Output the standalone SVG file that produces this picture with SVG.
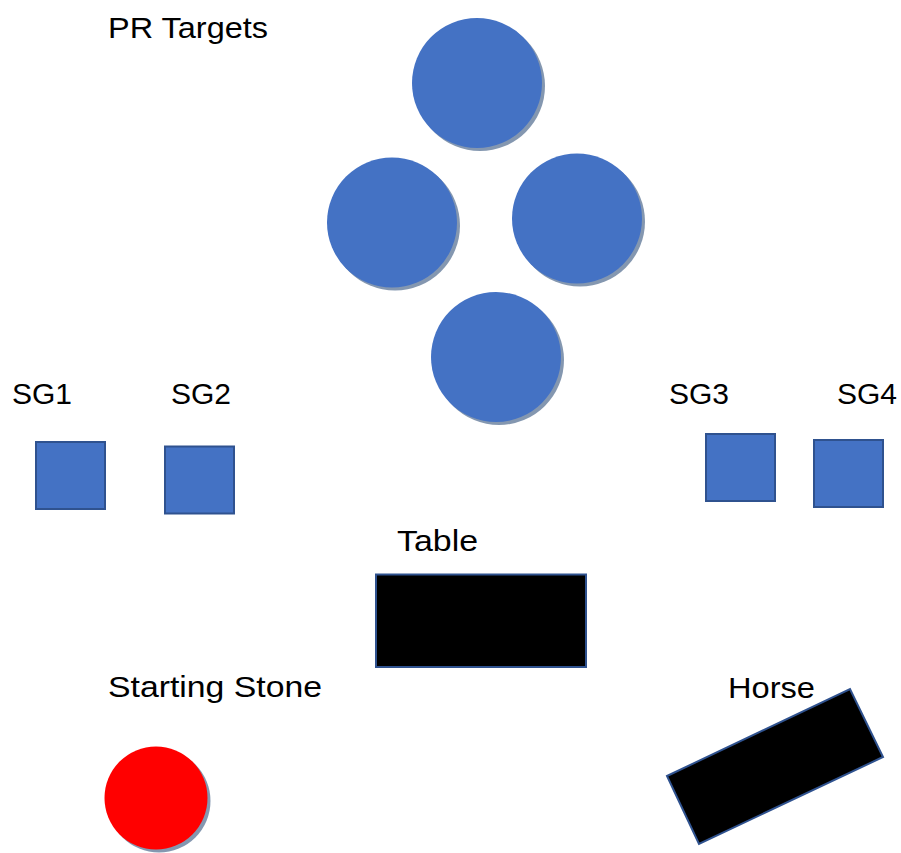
<svg xmlns="http://www.w3.org/2000/svg" width="901" height="853" viewBox="0 0 901 853">
<style>
.lbl{font-family:"Liberation Sans",Arial,sans-serif;font-size:30px;fill:#000}
.tgt{fill:#4472c4}
.sh{fill:#8497b0}
.sq{fill:#4472c4;stroke:#2f528f;stroke-width:2}
.blk{fill:#000;stroke:#2f528f;stroke-width:2}
</style>
<rect width="901" height="853" fill="#fff"/>
<g id="label-pr"><text class="lbl" x="108" y="38" textLength="160" lengthAdjust="spacingAndGlyphs">PR Targets</text></g>
<g id="target1"><circle class="sh" cx="480" cy="86" r="65"/><circle class="tgt" cx="477" cy="83" r="65"/></g>
<g id="target2"><circle class="sh" cx="395" cy="225.5" r="65"/><circle class="tgt" cx="392" cy="222.5" r="65"/></g>
<g id="target3"><circle class="sh" cx="580" cy="221.5" r="65"/><circle class="tgt" cx="577" cy="218.5" r="65"/></g>
<g id="target4"><circle class="sh" cx="499" cy="360" r="65"/><circle class="tgt" cx="496" cy="357" r="65"/></g>
<g id="sg1"><text class="lbl" x="12" y="404">SG1</text><rect class="sq" x="36" y="442" width="69" height="67"/></g>
<g id="sg2"><text class="lbl" x="171" y="404">SG2</text><rect class="sq" x="165" y="446.5" width="69" height="67"/></g>
<g id="sg3"><text class="lbl" x="669" y="404">SG3</text><rect class="sq" x="706" y="434" width="69" height="67"/></g>
<g id="sg4"><text class="lbl" x="837" y="404">SG4</text><rect class="sq" x="814" y="440" width="69" height="67"/></g>
<g id="table"><text class="lbl" x="397" y="551" textLength="81" lengthAdjust="spacingAndGlyphs">Table</text><rect class="blk" x="376" y="574.5" width="210" height="92.5"/></g>
<g id="starting-stone"><text class="lbl" x="108" y="697" textLength="214" lengthAdjust="spacingAndGlyphs">Starting Stone</text><circle class="sh" cx="159" cy="801" r="51.5"/><circle fill="#ff0000" cx="156" cy="798" r="51.5"/></g>
<g id="horse"><text class="lbl" x="728" y="698" textLength="87" lengthAdjust="spacingAndGlyphs">Horse</text><polygon class="blk" points="667,776 850,689 883,757 699,844"/></g>
<g id="connectors"></g>
</svg>
